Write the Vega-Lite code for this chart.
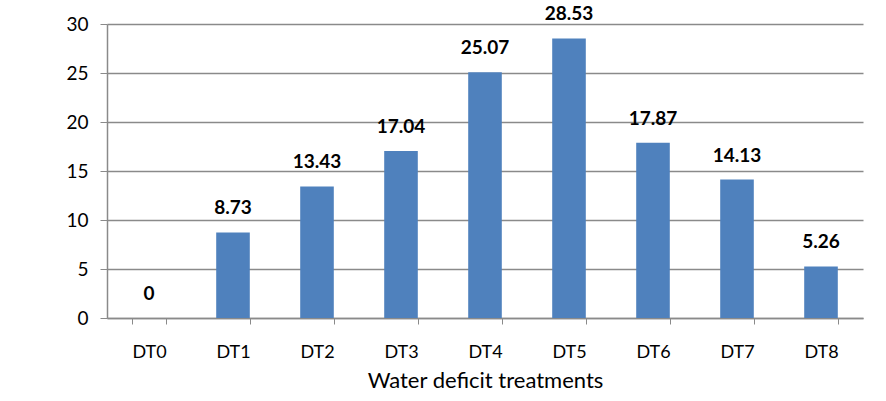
{
  "$schema": "https://vega.github.io/schema/vega-lite/v6.json",
  "width": 756,
  "height": 294,
  "autosize": {"type": "none"},
  "padding": {"left": 107, "top": 24, "right": 23, "bottom": 83},
  "background": "white",
  "data": {
    "values": [
      {"treatment": "DT0", "value": 0},
      {"treatment": "DT1", "value": 8.73},
      {"treatment": "DT2", "value": 13.43},
      {"treatment": "DT3", "value": 17.04},
      {"treatment": "DT4", "value": 25.07},
      {"treatment": "DT5", "value": 28.53},
      {"treatment": "DT6", "value": 17.87},
      {"treatment": "DT7", "value": 14.13},
      {"treatment": "DT8", "value": 5.26}
    ]
  },
  "encoding": {
    "x": {
      "field": "treatment",
      "type": "nominal",
      "sort": null,
      "scale": {"paddingInner": 0.6, "paddingOuter": 0.3},
      "axis": {
        "title": "Water deficit treatments",
        "labelAngle": 0,
        "labelFontSize": 18,
        "labelPadding": 19,
        "labelColor": "#000000",
        "tickBand": "extent",
        "tickSize": 6,
        "tickColor": "#8a8a8a",
        "domainColor": "#8a8a8a",
        "domainWidth": 1.5,
        "titleFontSize": 22,
        "titleFontWeight": "normal",
        "titleColor": "#000000",
        "titlePadding": 9,
        "grid": false
      }
    },
    "y": {
      "field": "value",
      "type": "quantitative",
      "scale": {"domain": [0, 30], "nice": false},
      "axis": {
        "title": null,
        "values": [0, 5, 10, 15, 20, 25, 30],
        "labelFontSize": 19,
        "labelColor": "#000000",
        "labelPadding": 12,
        "tickSize": 7,
        "tickColor": "#8a8a8a",
        "domainColor": "#8a8a8a",
        "domainWidth": 1.5,
        "grid": true,
        "gridColor": "#8a8a8a",
        "gridWidth": 1.5
      }
    }
  },
  "layer": [
    {"mark": {"type": "bar", "color": "#4F81BD"}},
    {
      "mark": {"type": "text", "fontWeight": "bold", "fontSize": 19, "baseline": "alphabetic", "dy": -18, "color": "#000000"},
      "encoding": {"text": {"field": "value", "type": "quantitative"}}
    }
  ],
  "config": {
    "font": "Lato",
    "view": {"stroke": null}
  }
}
